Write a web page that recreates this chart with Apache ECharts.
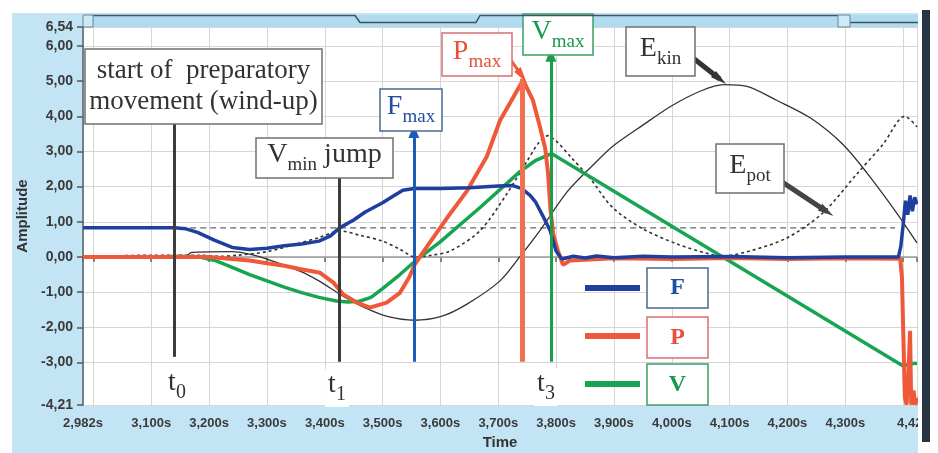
<!DOCTYPE html>
<html>
<head>
<meta charset="utf-8">
<script src="https://cdn.jsdelivr.net/npm/echarts@6/dist/echarts.min.js"></script>
<style>html,body{margin:0;padding:0;background:#fff}#main{width:938px;height:453px}</style>
</head>
<body>
<div id="main"></div>
<script>
// ---- axis ticks / labels ----
var xTicks = [2.982, 3.0, 3.1, 3.2, 3.3, 3.4, 3.5, 3.6, 3.7, 3.8, 3.9, 4.0, 4.1, 4.2, 4.3, 4.4, 4.424];
var xLabels = [2.982, 3.1, 3.2, 3.3, 3.4, 3.5, 3.6, 3.7, 3.8, 3.9, 4.0, 4.1, 4.2, 4.3, 4.424];
var yTicks = [-4.21, -3, -2, -1, 0, 1, 2, 3, 4, 5, 6, 6.54];

// ---- curves [time s, amplitude] ----
var dataF = [
  [2.982,0.83],[3.14,0.83],[3.16,0.80],[3.18,0.70],[3.21,0.47],[3.24,0.27],[3.27,0.21],[3.30,0.25],[3.33,0.32],
  [3.36,0.37],[3.39,0.45],[3.41,0.60],[3.425,0.82],[3.45,1.05],[3.47,1.28],[3.50,1.54],[3.52,1.75],[3.535,1.90],
  [3.555,1.95],[3.60,1.95],[3.65,1.97],[3.70,2.02],[3.725,2.03],[3.74,1.95],[3.755,1.75],[3.765,1.55],[3.777,1.17],
  [3.79,0.74],[3.80,0.17],[3.81,-0.06],[3.83,0.02],[3.85,-0.03],[3.87,0.03],[3.90,-0.02],[3.95,0.02],[4.00,0.0],
  [4.10,0.01],[4.20,-0.02],[4.30,0.0],[4.392,0.0],[4.396,0.3],[4.40,0.9],[4.404,1.6],[4.408,1.2],[4.412,1.75],
  [4.416,1.3],[4.42,1.7],[4.424,1.5]
];
var dataP = [
  [2.982,0.0],[3.10,0.0],[3.20,0.0],[3.24,-0.06],[3.27,-0.1],[3.30,-0.18],[3.33,-0.25],[3.357,-0.34],[3.392,-0.45],
  [3.415,-0.73],[3.432,-1.07],[3.456,-1.3],[3.478,-1.44],[3.507,-1.3],[3.53,-1.02],[3.547,-0.55],[3.556,-0.2],
  [3.577,0.3],[3.611,1.1],[3.646,1.88],[3.68,2.85],[3.703,3.88],[3.726,4.54],[3.743,5.03],[3.76,4.45],[3.772,3.7],
  [3.781,3.1],[3.786,2.4],[3.79,1.4],[3.795,0.66],[3.803,0.18],[3.812,-0.22],[3.824,-0.1],[3.85,-0.08],[3.90,-0.04],
  [4.00,-0.06],[4.10,-0.03],[4.20,-0.06],[4.30,-0.04],[4.395,-0.05],[4.398,-0.6],[4.40,-2.0],[4.403,-4.0],
  [4.406,-4.2],[4.409,-3.4],[4.412,-2.1],[4.414,-4.2],[4.418,-3.8],[4.421,-4.2],[4.424,-4.0]
];
var dataV = [
  [2.982,0.0],[3.10,0.0],[3.15,0.02],[3.184,0.0],[3.21,-0.1],[3.241,-0.3],[3.27,-0.5],[3.30,-0.68],[3.33,-0.86],
  [3.357,-1.0],[3.39,-1.15],[3.42,-1.25],[3.44,-1.28],[3.46,-1.26],[3.48,-1.15],[3.50,-0.9],[3.53,-0.5],
  [3.556,-0.12],[3.599,0.42],[3.668,1.4],[3.737,2.42],[3.765,2.75],[3.792,2.94],[4.40,-3.1],[4.412,-3.04],[4.424,-3.02]
];
var dataEkin = [
  [2.982,0.0],[3.10,0.0],[3.16,0.03],[3.17,0.13],[3.24,0.15],[3.27,0.08],[3.30,-0.06],[3.357,-0.4],[3.39,-0.68],
  [3.43,-1.1],[3.47,-1.45],[3.51,-1.7],[3.555,-1.8],[3.60,-1.7],[3.646,-1.34],[3.703,-0.68],[3.737,0.0],[3.772,0.75],
  [3.819,1.85],[3.863,2.6],[3.898,3.15],[3.95,3.75],[4.00,4.3],[4.05,4.72],[4.09,4.9],[4.13,4.85],[4.182,4.45],
  [4.24,3.95],[4.296,3.2],[4.337,2.4],[4.389,1.25],[4.424,0.4]
];
var dataEpot = [
  [2.982,0.0],[3.10,0.05],[3.18,0.05],[3.22,0.02],[3.25,0.05],[3.30,0.15],[3.357,0.4],[3.39,0.55],[3.426,0.74],
  [3.46,0.62],[3.50,0.45],[3.53,0.22],[3.556,0.0],[3.585,0.05],[3.617,0.17],[3.668,0.74],[3.715,1.8],[3.75,2.73],
  [3.77,3.25],[3.786,3.45],[3.80,3.3],[3.825,2.85],[3.858,2.25],[3.898,1.4],[3.95,0.8],[4.009,0.37],[4.066,0.08],
  [4.09,0.03],[4.135,0.17],[4.199,0.54],[4.261,1.25],[4.32,2.36],[4.365,3.2],[4.403,4.0],[4.424,3.7]
];
var dataRest = [[3.15,0.83],[4.386,0.83]];
var dataZero = [[2.982,0],[4.424,0]];

// ---- event markers (time, bottom, top) ----
var markerT0 = [3.139, -2.84, 3.80];
var markerT1 = [3.425, -2.98, 2.26];
var markerFmax = [3.554, -2.98, 3.57];
var markerPmax = [3.741, -2.98, 5.07];
var markerVmax = [3.791, -2.98, 5.74];

var SERIF = '"Liberation Serif", "Times New Roman", serif';
var SANS = '"Liberation Sans", Arial, sans-serif';

var chart = echarts.init(document.getElementById('main'), null, {renderer: 'canvas'});

function vline(m, color, width) {
  return [{coord: [m[0], m[1]], lineStyle: {color: color, width: width, type: 'solid'}}, {coord: [m[0], m[2]]}];
}

function rich(color, size, subSize, bold) {
  var w = bold ? 'bold' : 'normal';
  return {
    m: {fontFamily: SERIF, fontSize: size, fill: color, fontWeight: w, verticalAlign: 'bottom', padding: [0, 0, 6, 0]},
    s: {fontFamily: SERIF, fontSize: subSize, fill: color, fontWeight: w, verticalAlign: 'bottom'}
  };
}

function noteBox(x, y, w, h, stroke, textStyle) {
  return [
    {type: 'rect', z: 50, silent: true, shape: {x: x, y: y, width: w, height: h},
      style: {fill: '#fff', stroke: stroke, lineWidth: 1.5}},
    {type: 'text', z: 51, silent: true, x: x + w / 2, y: y + h / 2,
      style: Object.assign({align: 'center', verticalAlign: 'middle', textAlign: 'center', textVerticalAlign: 'middle'}, textStyle)}
  ];
}

function tLabel(x, y, sub) {
  return {type: 'text', z: 40, silent: true, x: x, y: y,
    style: {text: '{m|t}{s|' + sub + '}', align: 'center', verticalAlign: 'middle', textAlign: 'center',
      textVerticalAlign: 'middle', backgroundColor: '#fff', padding: [2, 3], rich: rich('#333', 28, 20)}};
}

var graphics = [
  {type: 'rect', z: -10, silent: true, shape: {x: 12, y: 13, width: 906, height: 440}, style: {fill: '#c3e4f5'}},
  {type: 'rect', z: -9, silent: true, shape: {x: 83, y: 27, width: 835, height: 378}, style: {fill: '#ffffff'}},
  {type: 'rect', z: -9, silent: true, shape: {x: 83, y: 15, width: 835, height: 12}, style: {fill: '#b1dbf1'}},
  {type: 'polyline', z: 60, silent: true, shape: {points: [[93, 15.5], [355, 15.5], [360, 22.5], [476, 22.5], [480, 15.5], [838, 15.5]]},
    style: {stroke: '#3d5566', lineWidth: 1.5, fill: null}},
  {type: 'polyline', z: 60, silent: true, shape: {points: [[850, 22.5], [918, 22.5]]}, style: {stroke: '#3d5566', lineWidth: 1.5, fill: null}},
  {type: 'rect', z: 60, silent: true, shape: {x: 838, y: 15, width: 12, height: 12}, style: {fill: '#cdeaf8', stroke: '#6d8494', lineWidth: 1}},
  {type: 'rect', z: 60, silent: true, shape: {x: 83, y: 15, width: 10, height: 12}, style: {fill: '#cdeaf8', stroke: '#6d8494', lineWidth: 1}},
  {type: 'rect', z: 100, silent: true, shape: {x: 918, y: 0, width: 20, height: 453}, style: {fill: '#fff'}},
  {type: 'rect', z: 101, silent: true, shape: {x: 922, y: 10, width: 8, height: 432}, style: {fill: '#253545'}},
  // legend swatches
  {type: 'line', z: 50, silent: true, shape: {x1: 585, y1: 288, x2: 640, y2: 288}, style: {stroke: '#1f3f9f', lineWidth: 6}},
  {type: 'line', z: 50, silent: true, shape: {x1: 585, y1: 336, x2: 640, y2: 336}, style: {stroke: '#f0583a', lineWidth: 6}},
  {type: 'line', z: 50, silent: true, shape: {x1: 585, y1: 384, x2: 640, y2: 384}, style: {stroke: '#18a552', lineWidth: 6}},
  tLabel(177, 386, '0'),
  tLabel(337, 388, '1'),
  tLabel(546, 387, '3')
];

graphics = graphics
  .concat(noteBox(85, 49, 237, 75, '#707070', {text: 'start of  preparatory\nmovement (wind-up)', fontFamily: SERIF, fontSize: 27, lineHeight: 31, fill: '#333'}))
  .concat(noteBox(256, 138, 137, 40, '#707070', {text: '{m|V}{s|min}{m| jump}', rich: rich('#333', 28, 19)}))
  .concat(noteBox(380, 89, 62, 42, '#4a6a94', {text: '{m|F}{s|max}', rich: rich('#1f4f9f', 28, 19)}))
  .concat(noteBox(442, 33, 70, 43, '#d87070', {text: '{m|P}{s|max}', rich: rich('#e8503a', 28, 19)}))
  .concat(noteBox(523, 14, 70, 41, '#3aa06a', {text: '{m|V}{s|max}', rich: rich('#17994c', 28, 19)}))
  .concat(noteBox(626, 27, 69, 49, '#707070', {text: '{m|E}{s|kin}', rich: rich('#333', 28, 19)}))
  .concat(noteBox(716, 144, 68, 49, '#707070', {text: '{m|E}{s|pot}', rich: rich('#333', 28, 19)}))
  .concat(noteBox(647, 268, 61, 40, '#4a6a94', {text: 'F', fontFamily: SERIF, fontSize: 24, fontWeight: 'bold', fill: '#1f4f9f'}))
  .concat(noteBox(647, 317, 61, 41, '#d87070', {text: 'P', fontFamily: SERIF, fontSize: 24, fontWeight: 'bold', fill: '#e8503a'}))
  .concat(noteBox(647, 364, 61, 41, '#3aa06a', {text: 'V', fontFamily: SERIF, fontSize: 24, fontWeight: 'bold', fill: '#17994c'}));

var option = {
  backgroundColor: '#ffffff',
  animation: false,
  grid: {left: 83, right: 21, top: 27, bottom: 48, containLabel: false, outerBoundsMode: 'none'},
  xAxis: {
    type: 'value', min: 2.982, max: 4.424,
    name: 'Time', nameLocation: 'middle', nameGap: 30,
    nameTextStyle: {fontFamily: SANS, fontSize: 15, fontWeight: 'bold', color: '#333'},
    axisLine: {show: false},
    axisTick: {show: true, customValues: xTicks, length: 5, lineStyle: {color: '#666', width: 1.5}},
    axisLabel: {customValues: xLabels, formatter: function (v) { return v.toFixed(3).replace('.', ',') + 's'; },
      fontFamily: SANS, fontSize: 13, fontWeight: 'bold', color: '#3a3a3a', margin: 12},
    splitLine: {show: true, lineStyle: {color: '#d6d6d6', width: 1}}
  },
  yAxis: {
    type: 'value', min: -4.21, max: 6.54,
    name: 'Amplitude', nameLocation: 'middle', nameGap: 50, nameRotate: 90,
    nameTextStyle: {fontFamily: SANS, fontSize: 15, fontWeight: 'bold', color: '#333'},
    axisLine: {show: true, lineStyle: {color: '#55606a', width: 1.5}},
    axisTick: {show: true, customValues: yTicks, length: 6, lineStyle: {color: '#555', width: 1.5}},
    axisLabel: {customValues: yTicks, formatter: function (v) { return v.toFixed(2).replace('.', ','); },
      fontFamily: SANS, fontSize: 14, fontWeight: 'bold', color: '#3a3a3a', margin: 10},
    splitLine: {show: true, lineStyle: {color: '#d6d6d6', width: 1}}
  },
  graphic: {elements: graphics},
  series: [
    {type: 'line', data: dataZero, showSymbol: false, silent: true, z: 1, lineStyle: {color: '#9a9a9a', width: 1.5}},
    {type: 'line', data: dataRest, showSymbol: false, silent: true, z: 1, lineStyle: {color: '#666', width: 1.3, type: [6, 4]}},
    {type: 'line', data: [], silent: true, z: 1,
      markLine: {silent: true, symbol: ['none', 'none'], label: {show: false}, animation: false,
        data: [vline(markerT0, '#3c3c3c', 3), vline(markerT1, '#3c3c3c', 3), vline(markerPmax, '#f07050', 5)]}},
    {type: 'line', data: [], silent: true, z: 1,
      markLine: {silent: true, symbol: ['none', 'triangle'], symbolSize: [11, 13], label: {show: false}, animation: false,
        data: [vline(markerFmax, '#1a5cb8', 3), vline(markerVmax, '#1a9e4a', 3)]}},
    {type: 'line', data: dataEkin, showSymbol: false, silent: true, smooth: 0.3, z: 2, lineStyle: {color: '#333', width: 1.3}},
    {type: 'line', data: dataEpot, showSymbol: false, silent: true, smooth: 0.3, z: 2, lineStyle: {color: '#333', width: 1.6, type: [3, 3]}},
    {type: 'line', data: dataV, showSymbol: false, silent: true, z: 3, lineStyle: {color: '#18a552', width: 3.5}},
    {type: 'line', data: dataP, showSymbol: false, silent: true, z: 3, lineStyle: {color: '#f0583a', width: 4}},
    {type: 'line', data: dataF, showSymbol: false, silent: true, z: 4, lineStyle: {color: '#1f3f9f', width: 3.5}},
    {type: 'line', data: [], silent: true, z: 60,
      markLine: {silent: true, symbol: ['none', 'triangle'], label: {show: false}, animation: false,
        data: [
          [{coord: [3.706, 5.97], symbolSize: [10, 12], lineStyle: {color: '#ee5a3a', width: 3, type: 'solid'}}, {coord: [3.741, 5.15]}],
          [{coord: [4.028, 5.77], symbolSize: [14, 14], lineStyle: {color: '#333', width: 5, type: 'solid'}}, {coord: [4.083, 5.06]}],
          [{coord: [4.182, 2.23], symbolSize: [14, 14], lineStyle: {color: '#444', width: 5, type: 'solid'}}, {coord: [4.268, 1.29]}]
        ]}}
  ]
};

chart.setOption(option);
</script>
</body>
</html>
